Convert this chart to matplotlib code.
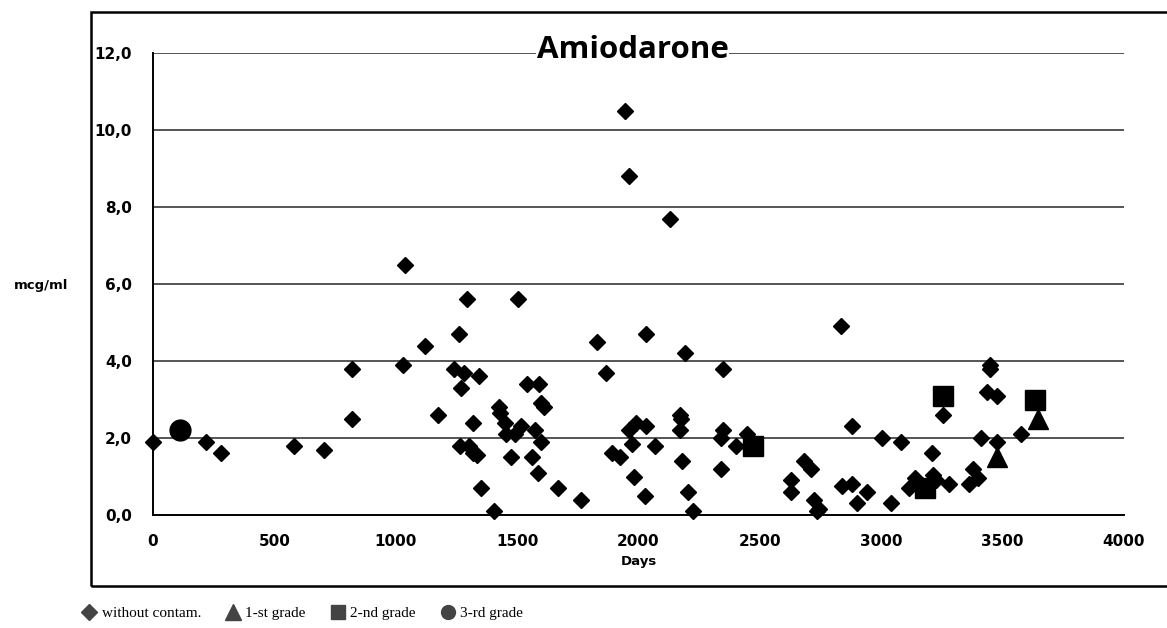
import matplotlib
matplotlib.use("Agg")
import matplotlib.pyplot as plt
from matplotlib.lines import Line2D
from matplotlib.patches import Rectangle

# values
days_none = [0, 220, 280, 580, 705, 820, 820, 1040, 1030, 1120, 1175, 1260, 1295, 1240,
             1280, 1270, 1345, 1320, 1265, 1300, 1320, 1335, 1350, 1405, 1505, 1425, 1430,
             1450, 1455, 1490, 1515, 1475, 1540, 1590, 1560, 1585, 1575, 1600, 1600, 1610,
             1670, 1765, 1945, 1960, 2130, 1830, 1865, 2030, 2190, 2350, 1890, 1925, 1960,
             1990, 2030, 1975, 1980, 2025, 2070, 2170, 2175, 2170, 2180, 2205, 2225, 2350,
             2340, 2340, 2400, 2445, 2630, 2630, 2680, 2710, 2725, 2735, 2745, 2835, 2880,
             3005, 3080, 2840, 2880, 2940, 2900, 3040, 3210, 3255, 3115, 3140, 3215, 3225,
             3280, 3360, 3380, 3400, 3410, 3450, 3450, 3435, 3475, 3475, 3575]
conc_none = [1.9, 1.9, 1.6, 1.8, 1.7, 3.8, 2.5, 6.5, 3.9, 4.4, 2.6, 4.7, 5.6, 3.8,
             3.7, 3.3, 3.6, 2.4, 1.8, 1.8, 1.6, 1.55, 0.7, 0.1, 5.6, 2.8, 2.65,
             2.4, 2.1, 2.1, 2.3, 1.5, 3.4, 3.4, 1.5, 1.1, 2.2, 1.9, 2.9, 2.8,
             0.7, 0.4, 10.5, 8.8, 7.7, 4.5, 3.7, 4.7, 4.2, 3.8, 1.6, 1.5, 2.2,
             2.4, 2.3, 1.85, 1.0, 0.5, 1.8, 2.6, 2.5, 2.2, 1.4, 0.6, 0.1, 2.2,
             2.0, 1.2, 1.8, 2.1, 0.9, 0.6, 1.4, 1.2, 0.4, 0.1, 0.15, 4.9, 2.3,
             2.0, 1.9, 0.75, 0.8, 0.6, 0.3, 0.3, 1.6, 2.6, 0.7, 0.95, 1.05, 0.9,
             0.8, 0.8, 1.2, 0.95, 2.0, 3.9, 3.8, 3.2, 3.1, 1.9, 2.1]

days_grade1 = [3475, 3645]
conc_grade1 = [1.5, 2.5]

days_grade2 = [2470, 3180, 3255, 3635]
conc_grade2 = [1.8, 0.7, 3.1, 3.0]

days_grade3 = [110]
conc_grade3 = [2.2]

x_ticks = [0, 500, 1000, 1500, 2000, 2500, 3000, 3500, 4000]
y_ticks = [0, 2, 4, 6, 8, 10, 12]
y_tick_labels = ["0,0", "2,0", "4,0", "6,0", "8,0", "10,0", "12,0"]
legend_labels = ["without contam.", "1-st grade", "2-nd grade", "3-rd grade"]

W, H = 1167, 628
fig = plt.figure(figsize=(W / 100, H / 100), dpi=100)
fig.patch.set_facecolor("white")

# outer chart frame
fig.add_artist(Rectangle((91 / W, 1 - 586 / H), (W + 5 - 91) / W, (586 - 12) / H,
                         transform=fig.transFigure, fill=False, ec="black", lw=1.8))

ax = fig.add_axes([153 / W, 1 - 515 / H, (1124 - 153) / W, (515 - 53) / H])
ax.set_xlim(0, 4000)
ax.set_ylim(0, 12)

for yv in y_ticks[1:]:
    ax.axhline(yv, color="#555555", lw=1.4, zorder=1)

ax.plot(days_none, conc_none, ls="none", marker="D", ms=8, color="black", zorder=3, clip_on=False)
ax.plot(days_grade1, conc_grade1, ls="none", marker="^", ms=14, color="black", zorder=3, clip_on=False)
ax.plot(days_grade2, conc_grade2, ls="none", marker="s", ms=14, color="black", zorder=3, clip_on=False)
ax.plot(days_grade3, conc_grade3, ls="none", marker="o", ms=15, color="black", zorder=3, clip_on=False)

for s in ["top", "right"]:
    ax.spines[s].set_visible(False)
for s in ["left", "bottom"]:
    ax.spines[s].set_color("black")
    ax.spines[s].set_linewidth(1.4)

tick_font = dict(family="DejaVu Sans", weight="bold", size=11)
ax.set_xticks(x_ticks)
ax.set_xticklabels([str(v) for v in x_ticks], **tick_font)
ax.set_yticks(y_ticks)
ax.set_yticklabels(y_tick_labels, **tick_font)
ax.tick_params(axis="y", length=0, pad=15)
ax.tick_params(axis="x", length=0, pad=14)

ax.set_xlabel("Days", family="DejaVu Sans", weight="bold", size=9.5, labelpad=4)
fig.text(41 / W, 1 - 285 / H, "mcg/ml", family="DejaVu Sans", weight="bold", size=9.5,
         ha="center", va="center")

ax.text(0.494, 12.08, "Amiodarone", transform=ax.get_yaxis_transform(), ha="center", va="center",
        family="Open Sans", weight="bold", size=22.5, zorder=5,
        bbox=dict(boxstyle="square,pad=0.02", fc="white", ec="none"))

handles = [
    Line2D([], [], ls="none", marker="D", ms=8, color="#444444"),
    Line2D([], [], ls="none", marker="^", ms=11, color="#444444"),
    Line2D([], [], ls="none", marker="s", ms=10, color="#444444"),
    Line2D([], [], ls="none", marker="o", ms=10, color="#444444"),
]
fig.legend(handles, legend_labels, loc="center left", bbox_to_anchor=(68 / W, 1 - 613 / H),
           ncol=4, frameon=False, handlelength=1.0, handletextpad=0.3, columnspacing=1.6,
           prop=dict(family="Liberation Serif", size=11))

fig.savefig("out.png", dpi=100, facecolor="white")
